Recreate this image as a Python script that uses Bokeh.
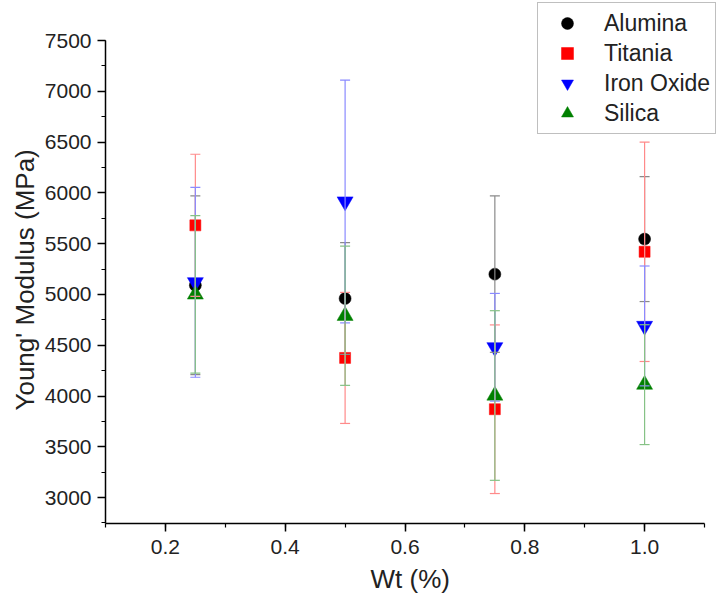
from bokeh.plotting import figure
from bokeh.models import (ColumnDataSource, Whisker, TeeHead, Legend, LegendItem,
                          Range1d, SingleIntervalTicker, NumeralTickFormatter, Title)
from bokeh.embed import file_html
from bokeh.resources import INLINE

# ---- data ----
wt = [0.25, 0.5, 0.75, 1.0]

alumina = [5090, 4960, 5200, 5545]
alumina_err = [880, 550, 770, 615]

titania = [5680, 4375, 3870, 5420]
titania_err = [700, 645, 830, 1080]

iron_oxide = [5120, 5915, 4480, 4690]
iron_oxide_err = [935, 1195, 530, 590]

silica = [5000, 4790, 4005, 4112]
silica_err = [775, 685, 835, 590]

series_names = ["Alumina", "Titania", "Iron Oxide", "Silica"]
x_title = "Wt (%)"
y_title = "Young' Modulus (MPa)"

FONT = "Liberation Sans"

# axis extents (drawn parts) and pixel layout
X_LO, X_HI = 0.1, 1.1
Y_LO, Y_HI = 2745, 7500
W, H = 719, 603
LEFT, BOTTOM = 105, 80
AX_TOP_PX, AX_RIGHT_PX = 40, 704          # where the drawn axes end
frame_w = W - LEFT
frame_h = H - BOTTOM
x_per_px = (X_HI - X_LO) / (AX_RIGHT_PX - LEFT)
y_per_px = (Y_HI - Y_LO) / (frame_h - AX_TOP_PX)
x_end = X_LO + frame_w * x_per_px
y_end = Y_LO + frame_h * y_per_px

p = figure(width=W, height=H, output_backend="svg", toolbar_location=None,
           x_range=Range1d(X_LO, x_end), y_range=Range1d(Y_LO, y_end),
           min_border_left=LEFT, min_border_right=0, min_border_top=0,
           min_border_bottom=BOTTOM)
p.outline_line_color = None
p.grid.visible = False
p.background_fill_color = "white"
p.border_fill_color = "white"

# axes
for ax in (p.xaxis[0], p.yaxis[0]):
    ax.axis_line_width = 1.5
    ax.axis_line_color = "black"
    ax.major_tick_line_color = "black"
    ax.minor_tick_line_color = "black"
    ax.major_tick_line_width = 1.5
    ax.minor_tick_line_width = 1.2
    ax.major_tick_in = 0
    ax.major_tick_out = 8
    ax.minor_tick_in = 0
    ax.minor_tick_out = 4
    ax.major_label_text_font = FONT
    ax.major_label_text_font_size = "21px"
    ax.major_label_text_color = "#222222"
    ax.major_label_standoff = 6
p.xaxis.major_label_standoff = 8

p.xaxis.bounds = (X_LO, X_HI)
p.yaxis.bounds = (Y_LO, Y_HI)
p.xaxis.ticker = SingleIntervalTicker(interval=0.2, num_minor_ticks=2)
p.yaxis.ticker = SingleIntervalTicker(interval=500, num_minor_ticks=2)
p.xaxis.formatter = NumeralTickFormatter(format="0.0")

# axis titles, positioned along the drawn axes (start of text at given offset)
p.add_layout(Title(text=y_title, align="left", offset=523 - 410,
                   text_font=FONT, text_font_size="26px", text_font_style="normal",
                   text_color="#222222", standoff=4), "left")
p.add_layout(Title(text=x_title, align="left", offset=370 - LEFT,
                   text_font=FONT, text_font_size="26px", text_font_style="normal",
                   text_color="#222222", standoff=10), "below")

colors = ["black", "red", "blue", "green"]
bar_colors = ["#8a8a8a", "#ff8a8a", "#8a8aff", "#86c286"]
markers = ["circle", "square", "inverted_triangle", "triangle"]
sizes = [12, 11, 16, 16]
values = [alumina, titania, iron_oxide, silica]
errors = [alumina_err, titania_err, iron_oxide_err, silica_err]

items = []
for name, col, bcol, mk, sz, vals, errs in zip(series_names, colors, bar_colors,
                                               markers, sizes, values, errors):
    src = ColumnDataSource(dict(
        x=wt, y=vals,
        upper=[v + e for v, e in zip(vals, errs)],
        lower=[v - e for v, e in zip(vals, errs)],
    ))
    w = Whisker(source=src, base="x", upper="upper", lower="lower",
                line_color=bcol, line_width=1.2,
                upper_head=TeeHead(size=10, line_color=bcol, line_width=1.2),
                lower_head=TeeHead(size=10, line_color=bcol, line_width=1.2),
                level="glyph")
    p.add_layout(w)
    r = p.scatter("x", "y", source=src, marker=mk, size=sz,
                  fill_color=col, line_color=col, line_width=0.5)
    items.append(LegendItem(label=name, renderers=[r]))

# legend box: left edge ~537 px, bottom edge ~133 px from the top of the window
legend = Legend(items=items, location=(537 - LEFT, frame_h - 134),
                label_text_font=FONT, label_text_font_size="23px",
                label_text_color="#222222",
                glyph_width=48, glyph_height=30, label_height=30,
                label_standoff=13, spacing=0, padding=5, margin=0,
                border_line_color="#7f7f7f", border_line_width=1.5,
                background_fill_color="white", background_fill_alpha=1.0)
p.add_layout(legend)

open("out.html", "w").write(file_html(p, INLINE))
